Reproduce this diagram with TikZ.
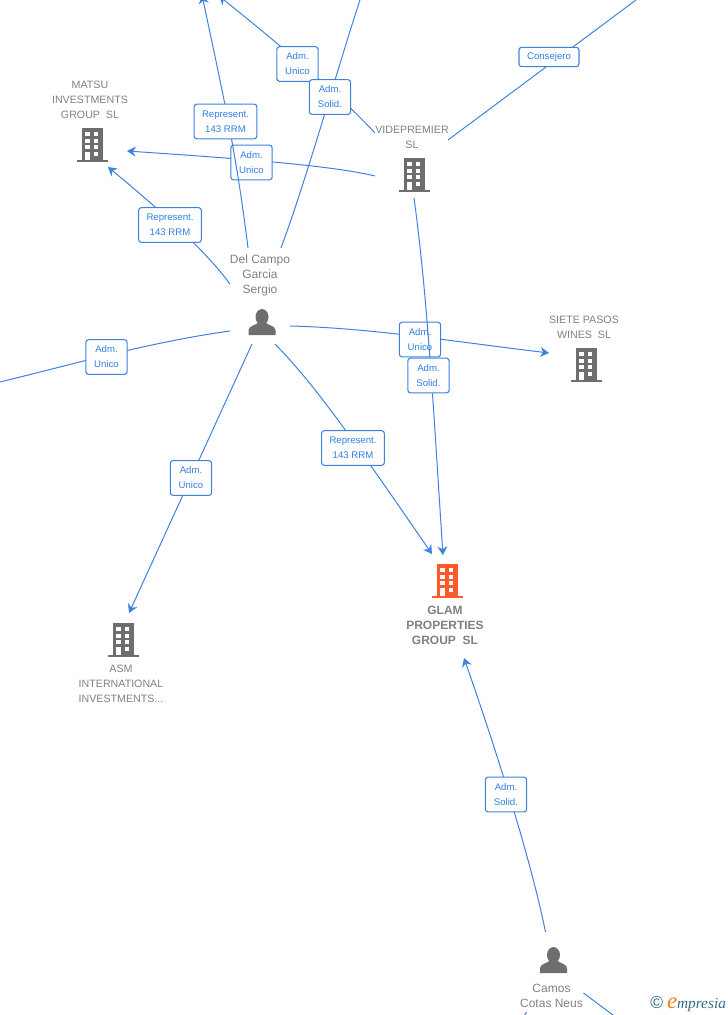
\documentclass[tikz,border=0pt]{standalone}
\usepackage{fontspec}
\usepackage{xcolor}
\setmainfont{Liberation Sans}
\newfontfamily\logofont{Liberation Serif}
\usetikzlibrary{positioning,arrows.meta}

\definecolor{linkblue}{HTML}{3F82DE}
\definecolor{labelblue}{HTML}{2F7FE0}
\definecolor{icongray}{HTML}{6E6E6E}
\definecolor{textgray}{HTML}{808080}
\definecolor{glamorange}{HTML}{FF5A2B}
\definecolor{logoteal}{HTML}{2F6F86}
\definecolor{logoorange}{HTML}{F07D1A}

\begin{document}
\begin{tikzpicture}[
    x=0.75pt, y=-0.75pt,
    node distance = 3pt,
    building/.style = {
        minimum width=24pt, minimum height=25.5pt, inner sep=0pt,
        path picture={
            \begin{scope}[shift={(path picture bounding box.center)}]
            \fill[#1] (-10.5,-17) rectangle (10.5,14.5);
            \fill[#1] (-15.5,14.5) rectangle (15.5,17);
            \foreach \wy in {-12.7,-6,0,6.7} {
                \fill[white] (1.8,\wy) rectangle (6.3,\wy+4);
                \fill[white] (-6.8,\wy) rectangle (-2.3,\wy+4);
            }
            \fill[white] (-6.8,10) rectangle (-2.3,14.5);
            \end{scope}
        }
    },
    building/.default = icongray,
    person/.style = {
        minimum width=24pt, minimum height=24pt, inner sep=0pt,
        path picture={
            \begin{scope}[shift={(path picture bounding box.center)}]
            \fill[icongray] (0,-5) ellipse [x radius=6.5, y radius=8];
            \fill[icongray] (-13.5,13) -- (-13.5,8) .. controls (-13,3.5) and (-6,3.5) .. (-3,0)
                -- (3,0) .. controls (6,3.5) and (13,3.5) .. (13.5,8) -- (13.5,13) -- cycle;
            \end{scope}
        }
    },
    firm/.style = {
        inner sep=0pt, align=center, text=textgray,
        font=\fontsize{8}{11.25}\selectfont
    },
    human/.style = {
        inner sep=0pt, align=center, text=textgray,
        font=\fontsize{9}{11.25}\selectfont
    },
    role/.style = {
        rectangle, rounded corners=2pt, draw=linkblue, fill=white,
        minimum width=31pt, minimum height=26pt, inner sep=0pt,
        align=center, text=labelblue, line width=0.8pt,
        font=\fontsize{7.2}{11.25}\selectfont
    },
    arrow/.style = {->, >={Stealth[length=6.5pt,width=7.5pt]}, draw=linkblue, line width=0.75pt},
    link/.style = {draw=linkblue, line width=0.75pt}
]
\useasboundingbox (0,0) rectangle (728,1015);

% Companies
\node[building] (matsu) at (92,145) {};
\node[building] (videpremier) at (414,175) {};
\node[building] (siete) at (586,365) {};
\node[building=glamorange] (glam) at (447,581) {};
\node[building] (asm) at (123,640) {};

\node[firm, above=6.75pt of matsu, xshift=-1.5pt] (matsutext) {MATSU\\INVESTMENTS\\GROUP\ \ SL};
\node[firm, above=6.75pt of videpremier, xshift=-1.5pt] (videpremiertext) {VIDEPREMIER\\SL};
\node[firm, above=6.75pt of siete, xshift=-1.5pt] (sietetext) {SIETE PASOS\\WINES\ \ SL};
\node[firm, below=6pt of glam, xshift=-1.5pt, font=\fontsize{9}{11.25}\selectfont\bfseries] (glamtext) {GLAM\\PROPERTIES\\GROUP\ \ SL};
\node[firm, below=6pt of asm, xshift=-1.5pt] (asmtext) {ASM\\INTERNATIONAL\\INVESTMENTS...};

% People
\node[person] (delcampo) at (262,322) {};
\node[person] (camos) at (553.5,960) {};
\node[human, above=7pt of delcampo, xshift=-1.5pt] (delcampotext) {Del Campo\\Garcia\\Sergio};
\node[human, below=5.5pt of camos, xshift=-1.5pt] (camostext) {Camos\\Cotas Neus};

% Off-page ends
\coordinate (offa) at (202,-5);
\coordinate (offb) at (219,-4);
\coordinate (offc) at (360,0);
\coordinate (offd) at (636,0);
\coordinate (offe) at (0,382);
\coordinate (offf) at (613,1015);
\coordinate (offg) at (524,1016);

% Links under the two see-through boxes
\draw[arrow] ([shift={(-39,1)}]videpremier.center) .. controls (330,165) and (230,158) .. ([shift={(35,6)}]matsu.center);
\draw[arrow] ([shift={(28,4)}]delcampo.center) .. controls (370,328) and (450,341) .. ([shift={(-37,-12)}]siete.center);

\node[role] (unicomatsu) at (251.5,162.5) {Adm.\\Unico};
\node[role] (unicosiete) at (420,339.5) {Adm.\\Unico};

% Remaining links
\draw[arrow] ([shift={(-14,-74)}]delcampo.center) .. controls (236,150) and (222,90) .. (offa);
\draw[link] ([shift={(19,-74)}]delcampo.center) .. controls (308,175) and (340,60) .. (offc);
\draw[arrow] ([shift={(-39,-42)}]videpremier.center) .. controls (340,95) and (280,45) .. (offb);
\draw[arrow] ([shift={(-32,-38)}]delcampo.center) .. controls (205,250) and (160,210) .. ([shift={(16,22)}]matsu.center);
\draw[link] ([shift={(-32,9)}]delcampo.center) .. controls (150,342) and (70,365) .. (offe);
\draw[arrow] ([shift={(0,23)}]videpremier.center) .. controls (428,300) and (434,420) .. ([shift={(-4,-26)}]glam.center);
\draw[arrow] ([shift={(13,22)}]delcampo.center) .. controls (315,385) and (350,435) .. ([shift={(-15,-27)}]glam.center);
\draw[arrow] ([shift={(-10,22)}]delcampo.center) -- ([shift={(6,-27)}]asm.center);
\draw[arrow] ([shift={(-8,-28)}]camos.center) .. controls (535,880) and (510,790) .. ([shift={(17,77)}]glam.center);
\draw[link] ([shift={(34,-35)}]videpremier.center) -- (offd);
\draw[link] ([shift={(30,33)}]camos.center) -- (offf);
\draw[link] ([shift={(-27,52)}]camos.center) -- (offg);

% Boxes on top
\node[role] (unicoa) at (297.5,64) {Adm.\\Unico};
\node[role] (solida) at (330,97) {Adm.\\Solid.};
\node[role, minimum width=47pt] (represa) at (225.5,121.5) {Represent.\\143 RRM};
\node[role, minimum width=47pt] (represb) at (170,225) {Represent.\\143 RRM};
\node[role, minimum width=45pt, minimum height=14.5pt] (consejero) at (549,57) {Consejero};
\node[role] (unicoleft) at (106.5,357) {Adm.\\Unico};
\node[role] (solidb) at (428.5,375.5) {Adm.\\Solid.};
\node[role, minimum width=47pt] (represc) at (353,448) {Represent.\\143 RRM};
\node[role] (unicoasm) at (191,478) {Adm.\\Unico};
\node[role] (solidc) at (506,794.5) {Adm.\\Solid.};

% Logo
\node[inner sep=0pt, anchor=west, font=\fontsize{11.5}{12}\selectfont\logofont\itshape, text=logoteal] (logo) at (650,1004)
    {\textcolor{logoteal}{\normalfont\fontsize{13}{12}\selectfont\textcopyright}\kern3pt\textcolor{logoorange}{\fontsize{17}{12}\selectfont e}mpresia};
\end{tikzpicture}
\end{document}
